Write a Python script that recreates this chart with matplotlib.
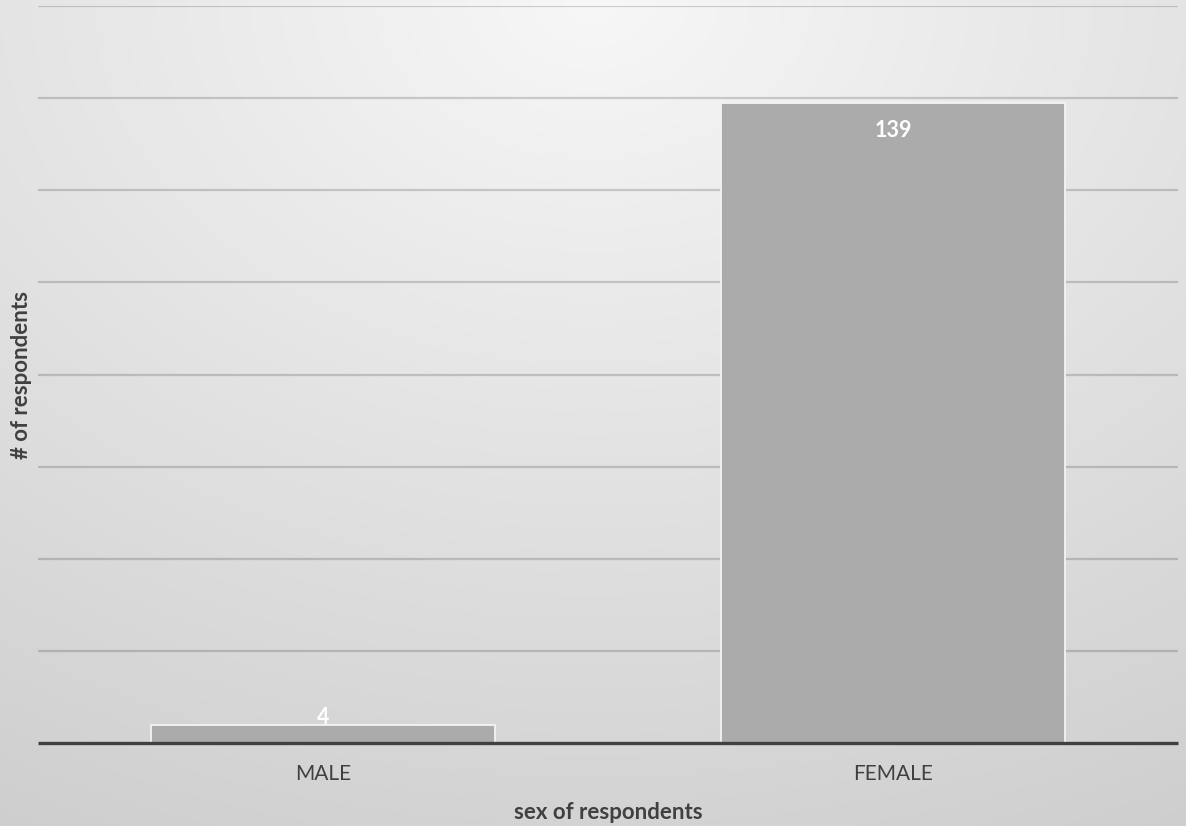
import numpy as np
import matplotlib
matplotlib.use("Agg")
import matplotlib.pyplot as plt

# Respondent counts by sex
categories = ["MALE", "FEMALE"]
counts = [4, 139]

plt.rcParams["font.family"] = ["Lato", "DejaVu Sans"]
TEXT = "#404040"

W, H = 1186, 826
fig = plt.figure(figsize=(W / 100, H / 100), dpi=100)

# soft radial backdrop, brightest at the top centre
yy, xx = np.mgrid[0:H, 0:W]
t = np.sqrt(((xx - W / 2) / 31.2) ** 2 + (yy / 22.9) ** 2)
shade = np.clip(247 - t, 190, 250) / 255.0
bg = fig.add_axes([0, 0, 1, 1], zorder=-1)
bg.imshow(np.dstack([shade] * 3), aspect="auto", interpolation="bilinear")
bg.axis("off")

ax = fig.add_axes([38 / W, 83 / H, 1140 / W, 737 / H])
ax.patch.set_alpha(0)

x = np.arange(len(categories))
bars = ax.bar(x, counts, width=0.605, color="#ababab",
              edgecolor="#f4f4f4", linewidth=1.3, zorder=3)

ax.set_xlim(-0.5, len(categories) - 0.5)
ax.set_ylim(0, 160)
ax.set_yticks(np.arange(20, 161, 20))
ax.yaxis.grid(True, color="black", alpha=0.17, linewidth=1.6, zorder=1)
ax.tick_params(axis="y", left=False, labelleft=False)
ax.tick_params(axis="x", length=0, pad=15, labelsize=15, labelcolor=TEXT)
ax.set_xticks(x)
ax.set_xticklabels(categories)
ax.axhline(0, color=TEXT, linewidth=2.4, zorder=4, clip_on=False,
           solid_capstyle="butt")
for s in ax.spines.values():
    s.set_visible(False)

# value labels: inside the top of tall bars, just over short ones
for b, v in zip(bars, counts):
    off = -20 if v > 20 else 5
    ax.annotate(str(v), (b.get_x() + b.get_width() / 2, v),
                xytext=(0, off), textcoords="offset points",
                ha="center", va="center", color="white",
                fontsize=15.5, fontweight="bold", zorder=5)

ax.set_xlabel("sex of respondents", fontsize=16, fontweight="bold",
              color=TEXT, labelpad=13)
ax.set_ylabel("# of respondents", fontsize=16, fontweight="bold",
              color=TEXT, labelpad=4)

fig.savefig("out.png", dpi=100)
